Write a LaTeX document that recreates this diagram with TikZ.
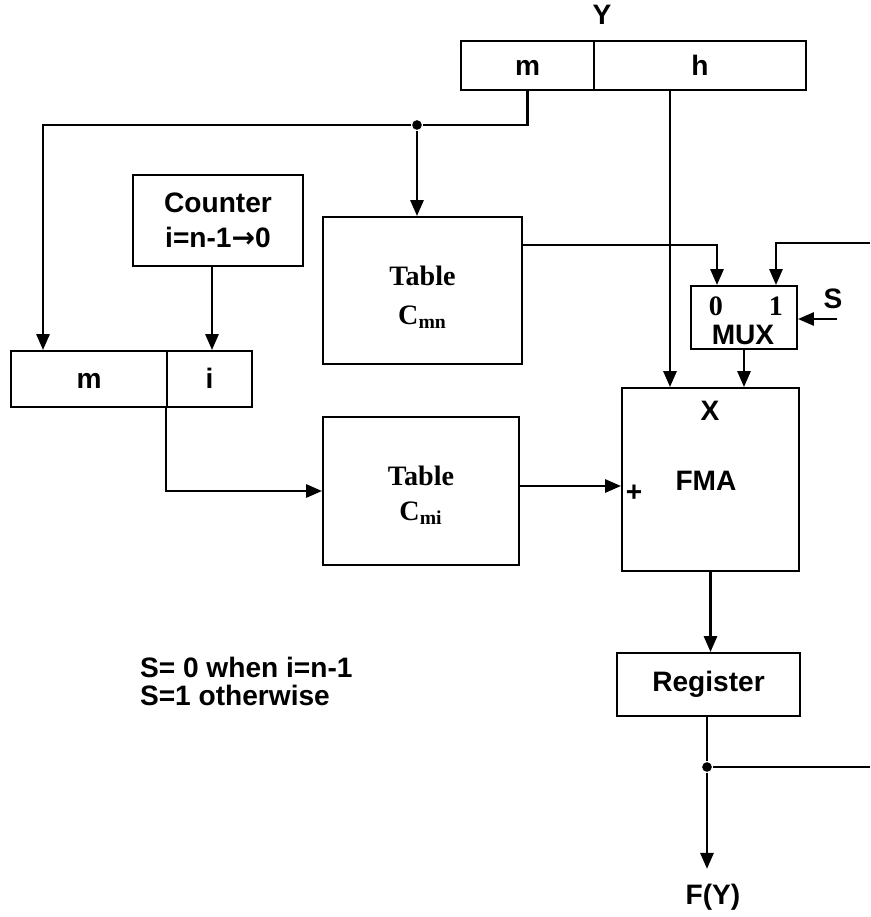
\documentclass[tikz,border=0pt]{standalone}
\usepackage{fontspec}
\setmainfont{Liberation Serif}
\setsansfont{Liberation Sans}
\newfontfamily\arrowfont{DejaVu Sans}
\usetikzlibrary{arrows.meta}

\begin{document}
\begin{tikzpicture}[>={Triangle[length=9pt,width=7.5pt]},x=0.02cm,y=-0.02cm,line width=1.2pt,
	box/.style={draw,inner sep=0pt,align=center,font=\sffamily\bfseries\fontsize{16}{20}\selectfont},
	cell/.style={box,text height=11pt,text depth=0pt},
	tab/.style={box,font=\rmfamily\bfseries\fontsize{16}{22}\selectfont},
	lbl/.style={inner sep=0pt,font=\sffamily\bfseries\fontsize{16}{16}\selectfont},
	num/.style={inner sep=0pt,font=\rmfamily\bfseries\fontsize{16}{16}\selectfont},
	dot/.style={circle,fill,inner sep=0pt,minimum size=5.5pt}]
	%\draw[gray,step=50] (0,0) grid (870,917);
	\useasboundingbox (0,0) rectangle (870,917);

	% input word Y = m | h
	\node[lbl] (ylbl) at (602,15) {Y};
	\node[cell,minimum width=2.66cm,minimum height=0.98cm] (ym) at (527.5,65.5) {m};
	\node[cell,minimum width=4.24cm,minimum height=0.98cm] (yh) at (700,65.5) {h};

	% counter and index word m | i
	\node[box,minimum width=3.4cm,minimum height=1.82cm] (cnt) at (218,220.5) {Counter\\i=n-1{\arrowfont →}0};
	\node[cell,minimum width=3.12cm,minimum height=1.12cm] (xm) at (89,379) {m};
	\node[cell,minimum width=1.7cm,minimum height=1.12cm] (xi) at (209.5,379) {i};

	% tables
	\node[tab,minimum width=3.98cm,minimum height=2.94cm] (tabmn) at (422.5,290.5) {\rule{0pt}{19pt}Table\\C\textsubscript{mn}};
	\node[tab,minimum width=3.92cm,minimum height=2.96cm] (tabmi) at (421,491) {\rule{0pt}{16pt}Table\\[-2pt]C\textsubscript{mi}};

	% mux, fma, register
	\node[box,minimum width=2.12cm,minimum height=1.26cm] (mux) at (744,317.5) {};
	\node[num] (mux0) at (716,306) {0};
	\node[num] (mux1) at (776,306) {1};
	\node[lbl] (muxlbl) at (743,335) {MUX};
	\node[lbl] (sel) at (833,299) {S};
	\coordinate (selin) at (837,319);

	\node[box,minimum width=3.54cm,minimum height=3.66cm] (fma) at (710.5,479.5) {};
	\node[lbl] (xlbl) at (710,411) {X};
	\node[lbl] (fmalbl) at (706,481) {FMA};
	\node[lbl] (plus) at (634,493) {+};

	\node[box,minimum width=3.66cm,minimum height=1.26cm] (reg) at (708.5,684.5) {Register};
	\node[lbl,inner sep=8pt] (fy) at (713,897) {F(Y)};

	\node[lbl,align=left,font=\sffamily\bfseries\fontsize{16}{16}\selectfont,anchor=west] (note) at (139,681) {S= 0 when i=n-1\\S=1 otherwise};

	\node[dot] (tap) at (417,125) {};
	\node[dot] (fb) at (707,767) {};
	\coordinate (fbin) at (870,243);
	\coordinate (fbout) at (870,767);

	% connections
	\draw (ym.south) |- (tap);
	\draw[->] (tap) -| ([xshift=-0.92cm]xm.north);
	\draw[->] (tap) -- (tap |- tabmn.north);
	\draw[->] ([xshift=-0.6cm]yh.south) -- ([xshift=-0.6cm]yh.south |- fma.north);
	\draw[->] ([xshift=-0.12cm]cnt.south) -- ([xshift=-0.12cm]cnt.south |- xi.north);
	\draw[->] ([yshift=0.91cm]tabmn.east) -| ([xshift=-0.54cm]mux.north);
	\draw[->] (fbin) -| ([xshift=0.64cm]mux.north);
	\draw[->] (selin) -- (selin -| mux.east);
	\draw[->] (mux.south) -- (mux.south |- fma.north);
	\draw[->] (xi.south west) |- (tabmi.west);
	\draw[->] ([yshift=0.1cm]tabmi.east) -- ([yshift=0.1cm]tabmi.east -| fma.west);
	\draw[->] (fma.south) -- (fma.south |- reg.north);
	\draw (fb |- reg.south) -- (fb);
	\draw (fb) -- (fbout);
	\draw[->] (fb) -- (fb |- fy.north);

\end{tikzpicture}
\end{document}
